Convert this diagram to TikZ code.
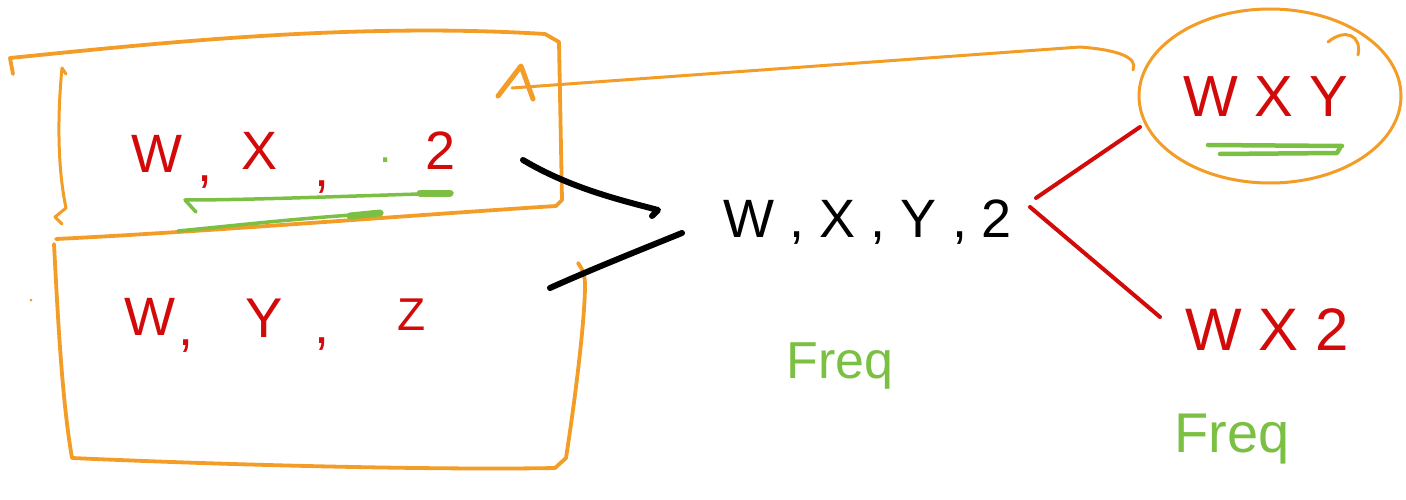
\documentclass[tikz,border=0pt]{standalone}
\usepackage{fontspec}
\setmainfont{Liberation Sans}
\definecolor{skorange}{HTML}{F39C26}
\definecolor{skred}{HTML}{D20A0A}
\definecolor{skgreen}{HTML}{7BC043}
\begin{document}
\begin{tikzpicture}[x=1pt,y=-1pt,line cap=round,line join=round,
  frame/.style={draw=skorange,line width=3.8pt},
  redlink/.style={draw=skred,line width=4pt},
  blacklink/.style={draw=black,line width=6pt},
  greenmark/.style={draw=skgreen,line width=3.5pt},
  glyph/.style={inner sep=0pt,anchor=base,font=\fontsize{#1}{#1}\selectfont},
  redglyph/.style={glyph=#1,text=skred},
  greenglyph/.style={glyph=#1,text=skgreen},
]
\useasboundingbox (0,0) rectangle (1406,500);

% ---- upper record box ----
\draw[frame] (13,74) -- (10,58) .. controls (150,44) and (350,22) .. (545,34)
  -- (559,42) -- (562,200) -- (556,206)
  .. controls (400,216) and (200,232) .. (56,239);
% left bracket of the upper box
\draw[frame,line width=3pt] (66,74) -- (62,68) .. controls (57,120) and (58,170) .. (66,208)
  -- (55,217) -- (62,224);

% ---- lower record box ----
\draw[frame] (54,244) .. controls (58,320) and (62,400) .. (72,458)
  .. controls (250,466) and (450,470) .. (555,468) -- (566,458)
  .. controls (575,400) and (585,320) .. (585,285) .. controls (585,275) and (582,268) .. (578,263);
\fill[skorange] (31,300) circle (1.5);

% ---- upper record text ----
\node[redglyph=54] (lw1) at (157,172) {W};
\node[redglyph=54] (lc1) at (205,182) {,};
\node[redglyph=54] (lx1) at (260,170) {X};
\node[redglyph=54] (lc2) at (322,186) {,};
\node[greenglyph=44] (ldot) at (386,163) {.};
\node[redglyph=54] (lz1) at (441,170) {2};

% green underline strokes
\draw[greenmark] (452,193) .. controls (350,196) and (250,200) .. (185,200) -- (196,212);
\draw[greenmark,line width=7pt] (420,193) -- (450,193);
\draw[greenmark] (382,213) .. controls (300,218) and (240,225) .. (178,231);
\draw[greenmark,line width=7pt] (350,216) -- (380,213);

% ---- lower record text ----
\node[redglyph=54] (lw2) at (150,335) {W};
\node[redglyph=54] (lc3) at (186,345) {,};
\node[redglyph=56] (ly2) at (264,337) {Y};
\node[redglyph=54] (lc4) at (322,343) {,};
\node[redglyph=46] (lz2) at (412,330) {Z};

% ---- merged itemset ----
\node[glyph=54] (main) at (868,237) {W , X , Y , 2};
\node[greenglyph=52] (freq1) at (840,378) {Freq};

\coordinate (upperout) at (523,160);
\coordinate (lowerout) at (550,288);
\coordinate (mainin1) at (658,210);
\coordinate (mainin2) at (682,233);
\draw[blacklink] (upperout) .. controls (570,188) and (620,200) .. (mainin1) -- (652,216);
\draw[blacklink] (mainin2) .. controls (640,250) and (590,270) .. (lowerout);

% ---- candidate subsets ----
\node[redglyph=58] (wxy) at (1266,117) {W X Y};
\draw[frame,line width=3pt] (1270,96) ellipse [x radius=131, y radius=87];
\draw[frame,line width=3pt] (1328,42) .. controls (1345,28) and (1362,35) .. (1358,55);
\draw[greenmark,line width=4.5pt] (1208,145) -- (1342,146);
\draw[greenmark,line width=4.5pt] (1220,154) -- (1337,153) -- (1340,148);

\node[redglyph=60] (wxz) at (1267,350) {W X 2};
\node[greenglyph=56] (freq2) at (1232,452) {Freq};

\coordinate (mainout1) at (1036,198);
\coordinate (mainout2) at (1030,207);
\coordinate (wxyin) at (1140,127);
\coordinate (wxzin) at (1160,317);
\draw[redlink] (mainout1) -- (wxyin);
\draw[redlink] (mainout2) -- (wxzin);

% ---- feedback arrow into the upper box ----
\coordinate (hook) at (1133,70);
\coordinate (tip) at (521,66);
\draw[frame,line width=3pt] (hook) .. controls (1138,58) and (1120,50) .. (1080,47) -- (512,88);
\draw[frame,line width=5pt] (498,96) -- (tip) -- (533,99);
\end{tikzpicture}
\end{document}
